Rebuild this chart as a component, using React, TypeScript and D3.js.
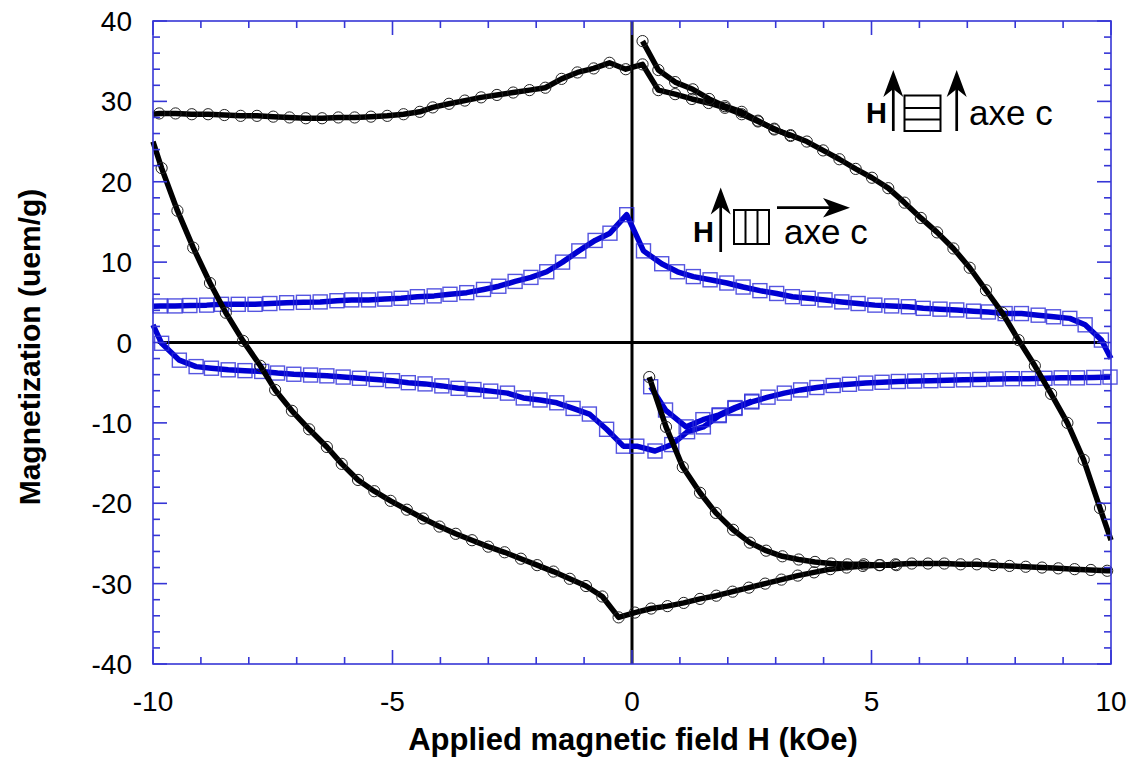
import React from 'react';
import * as d3 from 'd3';

// H (kOe), M (uem/g)
// field along c: circles
const circlesUpper: [number, number][] = [
  [-10.0, 28.4], [-9.87, 28.5], [-9.53, 28.5], [-9.19, 28.4], [-8.85, 28.4], [-8.51, 28.3], [-8.17, 28.2],
  [-7.83, 28.2], [-7.49, 28.1], [-7.15, 28.0], [-6.81, 27.9], [-6.47, 27.9], [-6.13, 28.0],
  [-5.79, 28.0], [-5.45, 28.1], [-5.11, 28.2], [-4.77, 28.4], [-4.43, 28.7], [-4.16, 29.25],
  [-3.82, 29.7], [-3.49, 30.1], [-3.15, 30.5], [-2.82, 30.8], [-2.48, 31.1], [-2.14, 31.4],
  [-1.81, 31.7], [-1.47, 32.8], [-1.14, 33.6], [-0.8, 34.1], [-0.47, 34.8], [-0.13, 34.0],
  [0.22, 34.6], [0.55, 31.4], [0.9, 30.9], [1.25, 30.3], [1.6, 29.8], [1.94, 29.2],
  [2.29, 28.4], [2.63, 27.5], [2.97, 26.6], [3.31, 25.7],
];

const circlesFirst: [number, number][] = [
  [0.22, 37.5], [0.55, 33.9], [0.9, 32.4], [1.27, 31.5], [1.61, 30.3], [1.94, 29.4],
  [2.29, 28.7], [2.63, 27.6], [2.97, 26.5], [3.31, 25.8], [3.65, 25.0], [3.99, 23.9],
  [4.33, 22.8], [4.67, 21.6], [5.01, 20.5], [5.35, 19.2], [5.69, 17.4], [6.03, 15.5],
  [6.37, 13.7], [6.71, 11.7], [7.05, 9.3], [7.39, 6.5], [7.73, 3.7], [8.07, 0.3],
  [8.41, -2.9], [8.75, -6.4], [9.09, -10.0], [9.43, -14.6], [9.77, -20.6], [10.0, -24.6],
];

const circlesLower: [number, number][] = [
  [-10.0, 25.0], [-9.82, 21.7], [-9.49, 16.4], [-9.16, 11.8], [-8.81, 7.4], [-8.48, 3.7],
  [-8.12, 0.2], [-7.76, -2.9], [-7.45, -5.9], [-7.1, -8.5], [-6.74, -10.8], [-6.37, -13.0],
  [-6.06, -15.1], [-5.72, -17.1], [-5.38, -18.5], [-5.04, -19.7], [-4.7, -20.8], [-4.36, -21.9],
  [-4.02, -22.9], [-3.68, -23.8], [-3.34, -24.6], [-3.0, -25.4], [-2.66, -26.1], [-2.32, -26.9],
  [-1.98, -27.7], [-1.64, -28.5], [-1.3, -29.4], [-0.96, -30.3], [-0.62, -31.6], [-0.28, -34.2],
  [0.06, -33.6], [0.4, -33.1], [0.74, -32.8], [1.08, -32.4], [1.42, -31.9], [1.76, -31.5],
  [2.1, -31.0], [2.44, -30.5], [2.78, -30.0], [3.12, -29.5], [3.46, -29.0], [3.8, -28.6],
  [4.14, -28.2], [4.48, -28.0], [4.82, -27.8], [5.16, -27.7], [5.5, -27.6], [5.84, -27.5],
  [6.18, -27.5], [6.52, -27.5], [6.86, -27.6], [7.2, -27.6], [7.54, -27.7], [7.88, -27.8],
  [8.22, -27.9], [8.56, -28.0], [8.9, -28.1], [9.24, -28.2], [9.58, -28.3], [9.92, -28.4], [10.0, -28.4],
];

const circlesInner: [number, number][] = [
  [0.36, -4.3], [0.71, -10.5], [1.06, -15.5], [1.42, -18.7], [1.75, -21.2], [2.11, -23.3],
  [2.46, -24.9], [2.8, -25.9], [3.14, -26.6], [3.48, -27.0], [3.82, -27.3], [4.16, -27.5],
  [4.5, -27.6], [4.84, -27.6], [5.18, -27.7], [5.52, -27.7],
];

// field perpendicular to c: squares
const squaresUpper: [number, number][] = [
  [-10.0, 4.5], [-9.85, 4.55], [-9.54, 4.55], [-9.23, 4.6], [-8.88, 4.65], [-8.57, 4.75], [-8.22, 4.75],
  [-7.87, 4.75], [-7.56, 4.85], [-7.21, 4.95], [-6.86, 5.0], [-6.51, 5.05], [-6.16, 5.2],
  [-5.85, 5.3], [-5.5, 5.3], [-5.16, 5.4], [-4.82, 5.5], [-4.48, 5.7], [-4.13, 5.8],
  [-3.8, 6.0], [-3.45, 6.2], [-3.1, 6.6], [-2.78, 7.0], [-2.44, 7.6], [-2.11, 8.1],
  [-1.78, 8.8], [-1.45, 10.0], [-1.11, 11.4], [-0.77, 12.7], [-0.46, 13.6], [-0.11, 15.9],
  [0.24, 11.4], [0.62, 9.8], [0.95, 8.8], [1.28, 8.2], [1.63, 7.8], [1.98, 7.4],
  [2.32, 6.9], [2.67, 6.45], [3.02, 6.1], [3.35, 5.7], [3.68, 5.5], [4.03, 5.3],
  [4.38, 5.05], [4.72, 4.85], [5.07, 4.65], [5.42, 4.55], [5.77, 4.45], [6.08, 4.25],
  [6.43, 4.15], [6.78, 4.05], [7.13, 3.9], [7.44, 3.8], [7.79, 3.6], [8.13, 3.6],
  [8.48, 3.4], [8.8, 3.2], [9.14, 3.0], [9.46, 2.2], [9.8, 0.3], [10.0, -2.0],
];

const squaresLower: [number, number][] = [
  [-10.0, 2.2], [-9.82, -0.1], [-9.45, -2.2], [-9.1, -3.0], [-8.78, -3.2], [-8.43, -3.4],
  [-8.08, -3.5], [-7.73, -3.6], [-7.4, -3.8], [-7.06, -3.95], [-6.71, -4.05], [-6.37, -4.15],
  [-6.03, -4.3], [-5.69, -4.45], [-5.34, -4.6], [-5.0, -4.75], [-4.67, -5.0], [-4.32, -5.15],
  [-3.97, -5.4], [-3.63, -5.7], [-3.3, -5.85], [-2.95, -6.05], [-2.6, -6.3], [-2.27, -6.9],
  [-1.92, -7.15], [-1.57, -7.5], [-1.23, -8.2], [-0.89, -8.9], [-0.53, -10.8], [-0.18, -12.9],
  [0.1, -12.9], [0.48, -13.5], [0.83, -12.7], [1.16, -11.1], [1.49, -10.5], [1.82, -9.1],
  [2.15, -8.2], [2.5, -7.4], [2.84, -6.8], [3.18, -6.3], [3.52, -5.9], [3.86, -5.6],
  [4.2, -5.35], [4.54, -5.2], [4.88, -5.05], [5.22, -4.95], [5.56, -4.85], [5.9, -4.8],
  [6.24, -4.75], [6.58, -4.7], [6.92, -4.65], [7.26, -4.6], [7.6, -4.55], [7.94, -4.5],
  [8.28, -4.5], [8.62, -4.45], [8.96, -4.4], [9.3, -4.4], [9.64, -4.35], [9.98, -4.3],
];

const squaresInner: [number, number][] = [
  [0.39, -5.5], [0.7, -8.4], [1.13, -10.5], [1.48, -9.6], [1.82, -9.0], [2.15, -8.1], [2.5, -7.3],
];

const xTickLabels = [-10, -5, 0, 5, 10];
const yTickLabels = [-40, -30, -20, -10, 0, 10, 20, 30, 40];

const W = 1133;
const H = 761;
const FONT = '"Liberation Sans", Arial, Helvetica, sans-serif';
const FRAME = '#3636d6';
const BLUE = '#0000d2';

export default function App() {
  const x = d3.scaleLinear().domain([-10, 10]).range([153, 1111]);
  const y = d3.scaleLinear().domain([-40, 40]).range([664, 21]);
  const line = d3.line<[number, number]>().x(d => x(d[0])).y(d => y(d[1]));

  const xMinor = d3.range(-10, 10.001, 1);
  const yMinor = d3.range(-40, 40.001, 2);
  const [x0, x1] = x.range();
  const [y0, y1] = y.range();

  const marked = (pts: [number, number][]) => pts.filter(d => Math.abs(d[0]) < 9.99);

  const circles = [circlesUpper, circlesFirst, circlesLower, circlesInner];
  const squares = [squaresUpper, squaresLower, squaresInner];

  const upArrow = (cx: number, top: number, bottom: number) => (
    <g>
      <line x1={cx} x2={cx} y1={bottom} y2={top + 15} stroke="#000" strokeWidth={2.7} />
      <path d={`M${cx},${top} L${cx - 10},${top + 27} L${cx},${top + 19} L${cx + 10},${top + 27} Z`} fill="#000" />
    </g>
  );

  return (
    <svg width={W} height={H} style={{ position: 'absolute', left: 0, top: 0, background: '#fff' }}>
      {/* zero lines */}
      <line x1={x(-9.9)} x2={x(9.9)} y1={y(0)} y2={y(0)} stroke="#000" strokeWidth={3} />
      <line x1={x(0)} x2={x(0)} y1={y1} y2={y0} stroke="#000" strokeWidth={3} />

      {/* perpendicular: blue squares */}
      {squares.map((pts, i) => (
        <g key={'s' + i}>
          <path d={line(pts) || ''} fill="none" stroke={BLUE} strokeWidth={5.5} strokeLinejoin="round" />
          {marked(pts).map((d, j) => (
            <rect key={j} x={x(d[0]) - 7} y={y(d[1]) - 7} width={14} height={14}
              fill="none" stroke="#2a2ad8" strokeOpacity={0.8} strokeWidth={1.4} />
          ))}
        </g>
      ))}

      {/* parallel: black circles */}
      {circles.map((pts, i) => (
        <g key={'c' + i}>
          <path d={line(pts) || ''} fill="none" stroke="#000" strokeWidth={5.5} strokeLinejoin="round" />
          {marked(pts).map((d, j) => (
            <circle key={j} cx={x(d[0])} cy={y(d[1])} r={5.6} fill="none" stroke="#222" strokeWidth={1} />
          ))}
        </g>
      ))}

      {/* frame and ticks */}
      <rect x={x0} y={y1} width={x1 - x0} height={y0 - y1} fill="none" stroke={FRAME} strokeWidth={1.6} />
      {xMinor.map(v => {
        const len = v % 5 === 0 ? 14 : 7;
        return (
          <g key={'xt' + v}>
            <line x1={x(v)} x2={x(v)} y1={y0} y2={y0 - len} stroke={FRAME} strokeWidth={1.6} />
            <line x1={x(v)} x2={x(v)} y1={y1} y2={y1 + len} stroke={FRAME} strokeWidth={1.6} />
          </g>
        );
      })}
      {yMinor.map(v => {
        const len = v % 10 === 0 ? 14 : 7;
        return (
          <g key={'yt' + v}>
            <line x1={x0} x2={x0 + len} y1={y(v)} y2={y(v)} stroke={FRAME} strokeWidth={1.6} />
            <line x1={x1} x2={x1 - len} y1={y(v)} y2={y(v)} stroke={FRAME} strokeWidth={1.6} />
          </g>
        );
      })}

      {/* tick labels */}
      {xTickLabels.map(v => (
        <text key={'xl' + v} x={x(v)} y={711} textAnchor="middle" fontFamily={FONT} fontSize={28} fill="#000">{v}</text>
      ))}
      {yTickLabels.map(v => (
        <text key={'yl' + v} x={132} y={y(v) + 10} textAnchor="end" fontFamily={FONT} fontSize={28} fill="#000">{v}</text>
      ))}

      {/* axis titles */}
      <text x={633} y={750} textAnchor="middle" fontFamily={FONT} fontSize={31} fontWeight="bold" fill="#000">
        Applied magnetic field H (kOe)
      </text>
      <text transform="translate(40,347) rotate(-90)" textAnchor="middle" fontFamily={FONT} fontSize={30} fontWeight="bold" fill="#000">
        Magnetization (uem/g)
      </text>

      {/* annotation: H parallel to c */}
      <g>
        <text x={866} y={123} fontFamily={FONT} fontSize={29} fontWeight="bold" fill="#000">H</text>
        {upArrow(893.3, 70, 131)}
        <rect x={904.5} y={95.5} width={36} height={35.5} fill="none" stroke="#000" strokeWidth={2} />
        <line x1={904.5} x2={940.5} y1={108} y2={108} stroke="#000" strokeWidth={2} />
        <line x1={904.5} x2={940.5} y1={119.5} y2={119.5} stroke="#000" strokeWidth={2} />
        {upArrow(956.7, 70, 131)}
        <text x={969} y={125} fontFamily={FONT} fontSize={35} fill="#000">axe c</text>
      </g>

      {/* annotation: H perpendicular to c */}
      <g>
        <text x={693} y={241.5} fontFamily={FONT} fontSize={29} fontWeight="bold" fill="#000">H</text>
        {upArrow(720.7, 187.5, 252)}
        <rect x={734} y={210} width={35} height={34} fill="none" stroke="#000" strokeWidth={2} />
        <line x1={745.5} x2={745.5} y1={210} y2={244} stroke="#000" strokeWidth={2} />
        <line x1={757.5} x2={757.5} y1={210} y2={244} stroke="#000" strokeWidth={2} />
        <line x1={777} x2={835} y1={207.7} y2={207.7} stroke="#000" strokeWidth={2.7} />
        <path d="M850,207.7 L823,198 L830,207.7 L823,217.4 Z" fill="#000" />
        <text x={784} y={243.5} fontFamily={FONT} fontSize={35} fill="#000">axe c</text>
      </g>
    </svg>
  );
}
